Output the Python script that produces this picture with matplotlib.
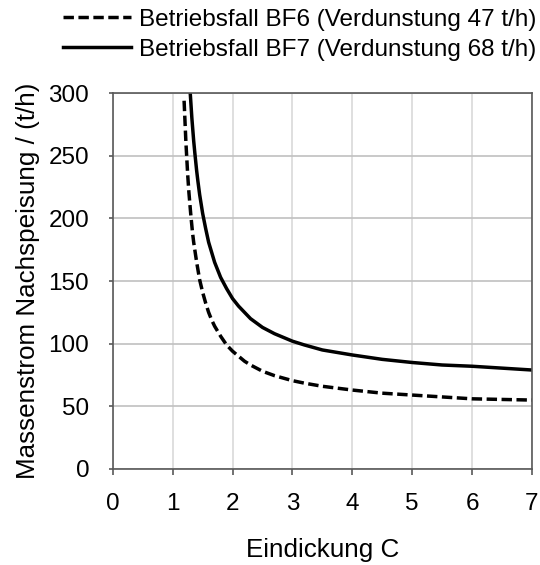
import numpy as np
import matplotlib.pyplot as plt

plt.rcParams['font.family'] = ['Liberation Sans', 'DejaVu Sans']

# Eindickung C and Nachspeisung (t/h)
c_bf6 = [1.19, 1.22, 1.25, 1.27, 1.3, 1.33, 1.35, 1.4, 1.45, 1.5, 1.55, 1.6, 1.65, 1.7, 1.8,
         1.9, 2.0, 2.1, 2.2, 2.3, 2.5, 2.7, 3.0, 3.2, 3.5, 4.0, 4.5, 5.0, 5.5, 6.0, 6.5, 7.0]
m_bf6 = [294, 261, 235, 221, 204, 189, 181, 165, 151, 141, 132.5, 125, 119, 114, 106,
         99, 94, 90, 86, 83, 78, 74.5, 70.5, 68.5, 66, 63, 60.5, 59, 57.5, 56, 55.5, 55]
c_bf7 = [1.29, 1.32, 1.35, 1.37, 1.4, 1.42, 1.45, 1.5, 1.55, 1.6, 1.65, 1.7, 1.75, 1.8,
         1.9, 2.0, 2.1, 2.2, 2.3, 2.5, 2.7, 3.0, 3.2, 3.5, 4.0, 4.5, 5.0, 5.5, 6.0, 6.5, 7.0]
m_bf7 = [302, 280, 262, 252, 238, 230, 219, 204, 192, 181, 173, 165, 159, 153,
         144, 136, 130, 125, 120, 113, 108, 102, 99, 95, 91, 87.5, 85, 83, 82, 80.5, 79]
labels = ['Betriebsfall BF6 (Verdunstung 47 t/h)', 'Betriebsfall BF7 (Verdunstung 68 t/h)']

fs = 17.5
fig = plt.figure(figsize=(5.4, 5.65), dpi=100)
ax = fig.add_axes([0.209, 0.170, 0.776, 0.665])

l1, = ax.plot(c_bf6, m_bf6, color='black', lw=2.5, ls=(0, (3.0, 1.3)))
l2, = ax.plot(c_bf7, m_bf7, color='black', lw=2.5)

ax.set_xlim(0, 7)
ax.set_ylim(0, 300)
ax.set_xticks(range(0, 8))
ax.set_yticks(range(0, 301, 50))
ax.xaxis.grid(True, color='#d9d9d9', lw=1.2)
ax.yaxis.grid(True, color='#c0c0c0', lw=1.2)
ax.set_axisbelow(True)
for s in ax.spines.values():
    s.set_color('#595959')
    s.set_linewidth(1.2)
ax.tick_params(axis='both', colors='#595959', labelcolor='black', labelsize=fs, width=1.2)
ax.tick_params(axis='x', length=4, pad=13)
ax.tick_params(axis='y', length=3, pad=14)

ax.set_xlabel('Eindickung C', fontsize=18.7, labelpad=17)
ax.set_ylabel('Massenstrom Nachspeisung / (t/h)', fontsize=18.7, labelpad=6)

fig.legend([l1, l2], labels, loc='upper right', bbox_to_anchor=(1.033, 1.023),
           frameon=False, fontsize=fs, handlelength=2.8, handletextpad=0.3,
           labelspacing=0.32)

fig.savefig('out.png', dpi=100)
